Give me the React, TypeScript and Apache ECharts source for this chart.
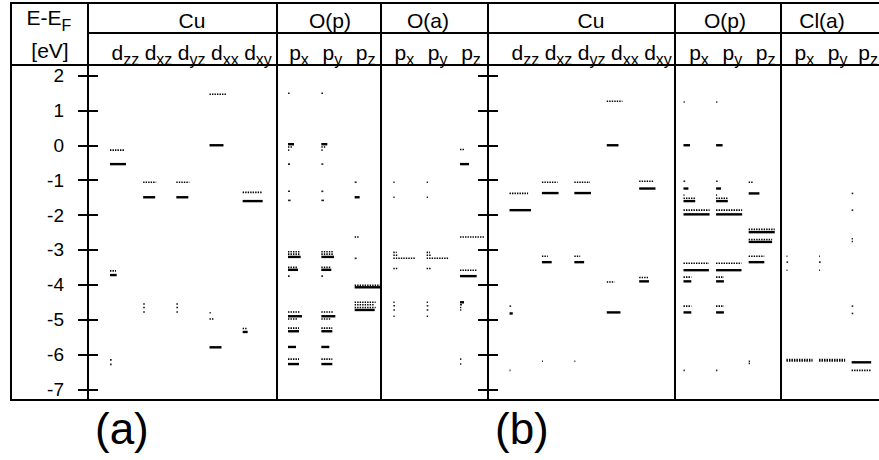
import React, { useEffect, useRef } from 'react';
import * as echarts from 'echarts';

// level style codes: S = solid (one spin), D = dotted (other spin), P = tiny point
const S = 0, D = 1, P = 2;
type Lv = [number, number, number]; // [energy eV, weight (column units), style]

const yTicks = [-7, -6, -5, -4, -3, -2, -1, 0, 1, 2];

// ---------- panel (a) ----------
const aCuDzz: Lv[] = [[-0.14, 0.45, D], [-0.54, 0.48, S], [-3.6, 0.18, D], [-3.72, 0.2, S], [-6.15, 0.05, P], [-6.28, 0.05, P]];
const aCuDxz: Lv[] = [[-1.06, 0.39, D], [-1.49, 0.36, S], [-4.55, 0.05, P], [-4.65, 0.05, P], [-4.78, 0.05, P]];
const aCuDyz: Lv[] = [[-1.06, 0.39, D], [-1.49, 0.36, S], [-4.55, 0.05, P], [-4.65, 0.05, P], [-4.78, 0.05, P]];
const aCuDxx: Lv[] = [[1.46, 0.5, D], [0, 0.42, S], [-4.8, 0.04, P], [-4.98, 0.12, D], [-5.79, 0.36, S]];
const aCuDxy: Lv[] = [[-1.35, 0.6, D], [-1.6, 0.6, S], [-5.25, 0.15, D], [-5.35, 0.15, S]];
const aOpPx: Lv[] = [[1.49, 0.05, P], [0.03, 0.18, S], [-0.05, 0.15, D], [-0.14, 0.04, P], [-0.54, 0.06, P], [-1.32, 0.06, P], [-1.58, 0.08, P], [-3.05, 0.36, D], [-3.12, 0.36, D], [-3.2, 0.38, S], [-3.5, 0.27, D], [-3.57, 0.3, S], [-3.75, 0.05, P], [-4.78, 0.36, D], [-4.9, 0.42, S], [-4.98, 0.3, D], [-5.24, 0.33, D], [-5.33, 0.33, S], [-5.78, 0.24, S], [-6.13, 0.33, D], [-6.27, 0.33, S]];
const aOpPy: Lv[] = [[1.49, 0.05, P], [0.03, 0.18, S], [-0.05, 0.15, D], [-0.14, 0.04, P], [-0.54, 0.06, P], [-1.32, 0.06, P], [-1.58, 0.08, P], [-3.05, 0.36, D], [-3.12, 0.36, D], [-3.2, 0.38, S], [-3.5, 0.27, D], [-3.57, 0.3, S], [-3.75, 0.05, P], [-4.78, 0.36, D], [-4.9, 0.42, S], [-4.98, 0.3, D], [-5.24, 0.33, D], [-5.33, 0.33, S], [-5.78, 0.24, S], [-6.13, 0.33, D], [-6.27, 0.33, S]];
const aOpPz: Lv[] = [[-1.06, 0.06, P], [-1.49, 0.15, S], [-2.63, 0.12, D], [-3.24, 0.06, P], [-4.01, 0.78, D], [-4.07, 0.78, S], [-4.5, 0.63, D], [-4.57, 0.6, D], [-4.65, 0.63, D], [-4.72, 0.6, S]];
const aOaPx: Lv[] = [[-1.06, 0.04, P], [-1.49, 0.04, P], [-3.07, 0.1, D], [-3.15, 0.15, D], [-3.24, 0.66, D], [-3.53, 0.12, D], [-4.5, 0.04, P], [-4.6, 0.05, P], [-4.72, 0.05, P], [-4.9, 0.04, P]];
const aOaPy: Lv[] = [[-1.06, 0.04, P], [-1.49, 0.04, P], [-3.07, 0.1, D], [-3.15, 0.15, D], [-3.24, 0.66, D], [-3.53, 0.12, D], [-4.5, 0.04, P], [-4.6, 0.05, P], [-4.72, 0.05, P], [-4.9, 0.04, P]];
const aOaPz: Lv[] = [[-0.12, 0.12, D], [-0.54, 0.27, S], [-2.63, 0.72, D], [-3.58, 0.5, D], [-3.75, 0.5, S], [-4.5, 0.12, S], [-4.57, 0.06, P], [-4.65, 0.04, P], [-4.72, 0.04, P], [-6.13, 0.04, P], [-6.27, 0.04, P]];

// ---------- panel (b) ----------
const bCuDzz: Lv[] = [[-1.38, 0.57, D], [-1.86, 0.66, S], [-4.61, 0.05, P], [-4.82, 0.1, S], [-6.45, 0.03, P]];
const bCuDxz: Lv[] = [[-1.06, 0.48, D], [-1.37, 0.51, S], [-3.18, 0.18, D], [-3.35, 0.3, S], [-6.19, 0.03, P]];
const bCuDyz: Lv[] = [[-1.06, 0.48, D], [-1.37, 0.51, S], [-3.18, 0.18, D], [-3.35, 0.3, S], [-6.19, 0.03, P]];
const bCuDxx: Lv[] = [[1.26, 0.48, D], [0, 0.36, S], [-3.92, 0.24, D], [-4.79, 0.42, S]];
const bCuDxy: Lv[] = [[-1.03, 0.45, D], [-1.24, 0.5, S], [-3.79, 0.27, D], [-3.9, 0.3, S]];
const bOpPx: Lv[] = [[1.24, 0.04, P], [0, 0.2, S], [-1.03, 0.05, P], [-1.24, 0.15, S], [-1.43, 0.03, P], [-1.52, 0.36, D], [-1.6, 0.36, S], [-1.86, 0.8, D], [-1.98, 0.8, S], [-3.38, 0.78, D], [-3.58, 0.78, S], [-3.78, 0.24, D], [-3.9, 0.24, S], [-4.61, 0.24, D], [-4.79, 0.24, S], [-6.45, 0.04, P]];
const bOpPy: Lv[] = [[1.24, 0.04, P], [0, 0.2, S], [-1.03, 0.05, P], [-1.24, 0.15, S], [-1.43, 0.03, P], [-1.52, 0.36, D], [-1.6, 0.36, S], [-1.86, 0.8, D], [-1.98, 0.8, S], [-3.38, 0.78, D], [-3.58, 0.78, S], [-3.78, 0.24, D], [-3.9, 0.24, S], [-4.61, 0.24, D], [-4.79, 0.24, S], [-6.45, 0.04, P]];
const bOpPz: Lv[] = [[-1.06, 0.15, D], [-1.38, 0.33, S], [-2.41, 0.8, D], [-2.49, 0.8, S], [-2.7, 0.72, D], [-2.77, 0.72, S], [-3.18, 0.48, D], [-3.35, 0.48, S], [-6.19, 0.04, P], [-6.25, 0.04, P]];
const bClPx: Lv[] = [[-3.18, 0.03, P], [-3.35, 0.05, P], [-3.58, 0.03, P], [-6.14, 0.8, D], [-6.18, 0.8, D]];
const bClPy: Lv[] = [[-3.18, 0.03, P], [-3.35, 0.05, P], [-3.58, 0.03, P], [-6.14, 0.8, D], [-6.18, 0.8, D]];
const bClPz: Lv[] = [[-1.38, 0.05, P], [-1.86, 0.05, P], [-2.68, 0.04, P], [-2.76, 0.04, P], [-4.61, 0.05, P], [-4.82, 0.05, P], [-6.22, 0.6, S], [-6.45, 0.6, D]];

const panelAColumns = [aCuDzz, aCuDxz, aCuDyz, aCuDxx, aCuDxy, aOpPx, aOpPy, aOpPz, aOaPx, aOaPy, aOaPz];
const panelBColumns = [bCuDzz, bCuDxz, bCuDyz, bCuDxx, bCuDxy, bOpPx, bOpPy, bOpPz, bClPx, bClPy, bClPz];

const orbitalLabels: [string, string][] = [
  ['d', 'zz'], ['d', 'xz'], ['d', 'yz'], ['d', 'xx'], ['d', 'xy'],
  ['p', 'x'], ['p', 'y'], ['p', 'z'],
  ['p', 'x'], ['p', 'y'], ['p', 'z'],
];
const groupsA = ['Cu', 'O(p)', 'O(a)'];
const groupsB = ['Cu', 'O(p)', 'Cl(a)'];
const panelNames = ['(a)', '(b)'];

// ---------- layout ----------
const W = 879, H = 460;
const FONT = '"Liberation Sans", Arial, sans-serif';
const PANEL_LEFT = [88, 488];
const PANEL_W = 400;
const UNITS = 12;
const PPU = PANEL_W / UNITS;
const GRID_TOP = 65, GRID_BOTTOM_Y = 400;
const COL_START = [0.66, 1.655, 2.65, 3.645, 4.64, 6.0, 7.0, 8.0, 9.16, 10.16, 11.16];
const LABEL_OFF = [0.46, 0.46, 0.46, 0.46, 0.46, 0.33, 0.33, 0.33, 0.33, 0.33, 0.33];
const GROUP_CX = [[192, 330, 428], [591, 725, 822]];
const FRAME_X = [11, 88, 277, 381, 488, 675, 781];

function measure(t: string, size: number) {
  const c = document.createElement('canvas').getContext('2d')!;
  c.font = `${size}px ${FONT}`;
  return c.measureText(t).width;
}

function mkData(cols: Lv[][]) {
  const out: number[][] = [];
  cols.forEach((col, i) => col.forEach(([e, w, s]) => out.push([COL_START[i], e, w, s])));
  return out;
}

const renderLevel = (_p: any, api: any) => {
  const x = api.value(0), e = api.value(1), w = api.value(2), st = api.value(3);
  const p0 = api.coord([x, e]);
  const p1 = api.coord([x + w, e]);
  let style: any;
  if (st === S) style = { stroke: '#000', lineWidth: 2.4 };
  else if (st === D) style = { stroke: '#000', lineWidth: 1.6, lineDash: [1.4, 1.1] };
  else style = { stroke: '#222', lineWidth: 1.6 };
  return { type: 'line', shape: { x1: p0[0], y1: p0[1], x2: Math.max(p1[0], p0[0] + 1), y2: p1[1] }, style };
};

export default function App() {
  const ref = useRef<HTMLDivElement>(null);
  useEffect(() => {
    document.body.style.margin = '0';
    const chart = echarts.init(ref.current!, undefined, { renderer: 'svg' });
    const bl = (baseline: number, size: number) => baseline - 0.3465 * size;
    const graphics: any[] = [];
    const line = (x1: number, y1: number, x2: number, y2: number) =>
      graphics.push({ type: 'line', z: 100, shape: { x1, y1, x2, y2 }, style: { stroke: '#000', lineWidth: 2 } });
    // frame
    line(FRAME_X[0], 3, W, 3);
    line(88, 33, W, 33);
    line(FRAME_X[0], GRID_TOP, W, GRID_TOP);
    line(FRAME_X[0], GRID_BOTTOM_Y, W, GRID_BOTTOM_Y);
    FRAME_X.forEach((x) => line(x, 2, x, GRID_BOTTOM_Y + 1));
    const text = (t: string, x: number, y: number, size: number, align = 'center') =>
      graphics.push({ type: 'text', z: 100, x, y, style: { text: t, font: `${size}px ${FONT}`, fill: '#000', align, verticalAlign: 'middle' } });
    // corner header
    {
      const wb = measure('E-E', 21), ws = measure('F', 16);
      const left = 49 - (wb + ws) / 2;
      text('E-E', left, bl(25, 21), 21, 'left');
      text('F', left + wb, bl(31, 16), 16, 'left');
      text('[eV]', 50, bl(58, 21), 21);
    }
    // group titles
    [groupsA, groupsB].forEach((gs, pi) => gs.forEach((g, gi) => text(g, GROUP_CX[pi][gi], bl(28, 21), 21)));
    // orbital labels
    PANEL_LEFT.forEach((pl) => {
      orbitalLabels.forEach(([b, s], i) => {
        const cx = pl + (COL_START[i] + LABEL_OFF[i]) * PPU;
        const wb = measure(b, 21), ws = measure(s, 16);
        let left = cx - (wb + ws) / 2;
        if (left + wb + ws > W - 1) left = W - 1 - wb - ws;
        text(b, left, bl(60, 21), 21, 'left');
        text(s, left + wb, bl(65, 16), 16, 'left');
      });
    });
    // panel names
    text(panelNames[0], 95, bl(444, 44), 44, 'left');
    text(panelNames[1], 495, bl(444, 44), 44, 'left');

    const gridH = GRID_BOTTOM_Y - GRID_TOP;
    const yBase = (gi: number, inside: boolean, labels: boolean) => ({
      type: 'value', gridIndex: gi, min: -7.3, max: 2.3, position: 'left',
      axisLine: { show: false },
      splitLine: { show: false },
      axisTick: { show: true, inside, length: 10, customValues: yTicks, lineStyle: { color: '#000', width: 2 } },
      axisLabel: labels
        ? { show: true, customValues: yTicks, margin: 24, color: '#000', fontSize: 19, fontFamily: FONT }
        : { show: false },
    });
    chart.setOption({
      animation: false,
      grid: PANEL_LEFT.map((l) => ({ left: l, top: GRID_TOP, width: PANEL_W, height: gridH, containLabel: false })),
      xAxis: PANEL_LEFT.map((_, gi) => ({ type: 'value', gridIndex: gi, min: 0, max: UNITS, show: false })),
      yAxis: [yBase(0, false, true), yBase(0, true, false), yBase(1, false, false), yBase(1, true, false)],
      series: [
        { type: 'custom', xAxisIndex: 0, yAxisIndex: 0, data: mkData(panelAColumns), renderItem: renderLevel, clip: false, silent: true },
        { type: 'custom', xAxisIndex: 1, yAxisIndex: 2, data: mkData(panelBColumns), renderItem: renderLevel, clip: false, silent: true },
      ],
      graphic: graphics,
    });
    return () => chart.dispose();
  }, []);
  return <div ref={ref} style={{ width: W, height: H, background: '#fff' }} />;
}
